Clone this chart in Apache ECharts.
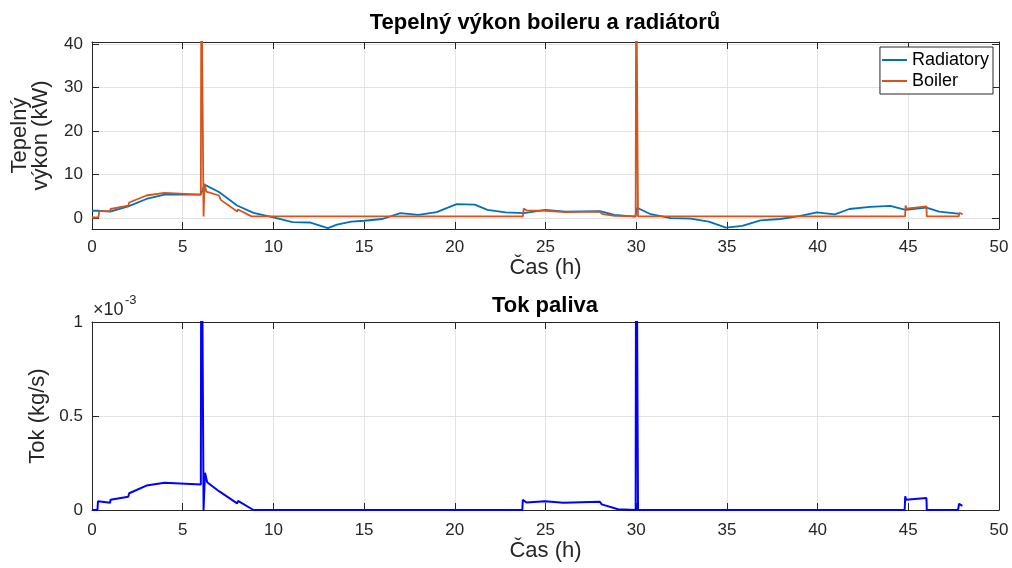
<!DOCTYPE html>
<html>
<head>
<meta charset="utf-8">
<script src="https://cdn.jsdelivr.net/npm/echarts@6/dist/echarts.min.js"></script>
<style>html,body{margin:0;padding:0;background:#fff}#c{width:1012px;height:568px}</style>
</head>
<body>
<div id="c"></div>
<script>
// ---- data ----
const radT = [0, 0.3, 0.35, 1.0, 2.0, 3.0, 4.0, 6.0, 6.2, 7.0, 8.0, 8.9, 10.0, 11.05, 12.0, 13.0, 13.5, 14.3, 15.0, 16.0, 17.0, 18.0, 19.0, 20.1, 21.1, 21.8, 22.8, 23.8, 25.0, 26.1, 28.0, 28.8, 29.95, 30.05, 30.8, 31.9, 33.0, 34.0, 34.95, 35.85, 36.85, 37.95, 39.05, 39.95, 40.95, 41.75, 42.9, 44.0, 44.85, 46.0, 46.7, 47.85];
const radV = [1.7, 1.7, 1.3, 1.5, 2.7, 4.4, 5.4, 5.4, 7.7, 6.0, 2.9, 1.2, 0.15, -0.9, -1.0, -2.3, -1.5, -0.8, -0.6, -0.2, 1.15, 0.75, 1.4, 3.2, 3.1, 1.9, 1.3, 1.15, 1.9, 1.5, 1.6, 0.75, 0.35, 2.4, 0.9, 0.0, -0.1, -0.8, -2.2, -1.8, -0.5, -0.2, 0.5, 1.3, 0.85, 2.1, 2.6, 2.8, 1.9, 2.4, 1.5, 1.0];

const boilT = [0, 0.35, 0.4, 1.0, 1.02, 2.0, 2.05, 3.0, 3.05, 4.0, 4.05, 6.0, 6.03, 6.1, 6.15, 6.2, 6.3, 7.0, 7.1, 8.0, 8.05, 8.8, 23.75, 23.8, 23.95, 25.0, 26.1, 28.0, 28.1, 28.8, 29.97, 30.0, 30.06, 30.1, 44.82, 44.85, 44.9, 46.0, 46.02, 47.78, 47.82, 48.0];
const boilV = [0.15, 0.15, 1.6, 1.6, 2.1, 2.9, 3.6, 5.2, 4.8, 5.8, 5.4, 5.4, 60, 60, 0.4, 7.9, 6.1, 5.2, 4.2, 1.5, 2.0, 0.4, 0.4, 2.2, 1.8, 1.7, 1.4, 1.5, 1.0, 0.5, 0.4, 60, 60, 0.4, 0.4, 2.9, 2.2, 2.7, 0.4, 0.4, 1.2, 0.9];

// fuel flow in units of 1e-3 kg/s
const fuelT = [0, 0.3, 0.33, 0.4, 1.0, 1.02, 2.0, 2.05, 3.0, 3.05, 4.0, 4.05, 6.0, 6.03, 6.1, 6.15, 6.23, 6.35, 7.0, 8.0, 8.05, 8.9, 23.72, 23.75, 23.95, 24.97, 25.98, 26.03, 28.0, 28.1, 29.0, 29.05, 29.97, 30.0, 30.06, 30.1, 44.8, 44.83, 44.88, 46.0, 46.02, 47.74, 47.8, 47.98];
const fuelV = [0, 0, 0.046, 0.038, 0.038, 0.055, 0.071, 0.089, 0.13, 0.12, 0.145, 0.136, 0.136, 2, 2, 0, 0.198, 0.148, 0.1, 0.035, 0.048, 0, 0, 0.054, 0.04, 0.046, 0.039, 0.044, 0.044, 0.03, 0.004, 0, 0, 2, 2, 0, 0, 0.073, 0.055, 0.064, 0, 0, 0.033, 0.022];

const topYTicks = [0, 10, 20, 30, 40];
const seriesNames = ['Radiatory', 'Boiler'];
const titles = ['Tepelný výkon boileru a radiátorů', 'Tok paliva'];

// ---- chart ----
const FONT = 'Liberation Sans, Arial, Helvetica, sans-serif';
const AX = '#262626';
const GRIDC = '#e3e3e3';
const pairs = (t, v) => t.map((x, i) => [x, v[i]]);

const chart = echarts.init(document.getElementById('c'), null, {renderer: 'canvas'});

function xAxisMain(gi, margin, gap) {
  return {
    type: 'value', gridIndex: gi, min: 0, max: 50, interval: 5, position: 'bottom',
    name: 'Čas (h)', nameLocation: 'middle', nameGap: gap,
    nameTextStyle: {fontFamily: FONT, fontSize: 22, color: AX},
    axisLine: {onZero: false, lineStyle: {color: AX, width: 1}},
    axisTick: {inside: true, length: 7, lineStyle: {color: AX}},
    axisLabel: {fontFamily: FONT, fontSize: 17, color: AX, margin: margin},
    splitLine: {show: true, lineStyle: {color: GRIDC, width: 1}}
  };
}
function xAxisTop(gi) {
  return {
    type: 'value', gridIndex: gi, min: 0, max: 50, interval: 5, position: 'top',
    axisLine: {onZero: false, lineStyle: {color: AX, width: 1}},
    axisTick: {inside: true, length: 7, lineStyle: {color: AX}},
    axisLabel: {show: false}, splitLine: {show: false}
  };
}

const option = {
  backgroundColor: '#fff',
  animation: false,
  title: [
    {text: titles[0], left: 545, top: 12, textAlign: 'center', padding: 0,
     textStyle: {fontFamily: FONT, fontSize: 22, fontWeight: 'bold', color: '#000'}},
    {text: titles[1], left: 545, top: 295, textAlign: 'center', padding: 0,
     textStyle: {fontFamily: FONT, fontSize: 22, fontWeight: 'bold', color: '#000'}}
  ],
  legend: {
    data: seriesNames, orient: 'vertical', right: 19, top: 47,
    icon: 'rect', itemWidth: 25, itemHeight: 2, itemGap: 3,
    padding: [4, 4, 4, 2],
    backgroundColor: '#fff', borderColor: AX, borderWidth: 1, borderRadius: 0,
    textStyle: {fontFamily: FONT, fontSize: 18, color: '#000'}
  },
  grid: [
    {left: 92, right: 13, top: 42, height: 187},
    {left: 92, right: 13, top: 322, height: 188}
  ],
  xAxis: [xAxisMain(0, 10, 26), xAxisMain(1, 12, 28), xAxisTop(0), xAxisTop(1)],
  yAxis: [
    {type: 'value', gridIndex: 0, min: -2.5, max: 40.5, position: 'left',
     name: 'Tepelný\nvýkon (kW)', nameLocation: 'middle', nameGap: 41, nameRotate: 90,
     nameTextStyle: {fontFamily: FONT, fontSize: 22, color: AX, lineHeight: 21, align: 'center'},
     axisLine: {show: true, onZero: false, lineStyle: {color: AX}},
     axisTick: {show: true, inside: true, length: 7, customValues: topYTicks, lineStyle: {color: AX}},
     axisLabel: {customValues: topYTicks, fontFamily: FONT, fontSize: 17, color: AX, margin: 9},
     splitLine: {show: true, lineStyle: {color: GRIDC}}},
    {type: 'value', gridIndex: 1, min: 0, max: 1, interval: 0.5, position: 'left',
     name: 'Tok (kg/s)', nameLocation: 'middle', nameGap: 38, nameRotate: 90,
     nameTextStyle: {fontFamily: FONT, fontSize: 22, color: AX},
     axisLine: {show: true, onZero: false, lineStyle: {color: AX}},
     axisTick: {show: true, inside: true, length: 7, lineStyle: {color: AX}},
     axisLabel: {fontFamily: FONT, fontSize: 17, color: AX, margin: 9},
     splitLine: {show: true, lineStyle: {color: GRIDC}}},
    {type: 'value', gridIndex: 0, min: -2.5, max: 40.5, position: 'right',
     axisLine: {show: true, onZero: false, lineStyle: {color: AX}},
     axisTick: {show: true, inside: true, length: 7, customValues: topYTicks, lineStyle: {color: AX}},
     axisLabel: {show: false}, splitLine: {show: false}},
    {type: 'value', gridIndex: 1, min: 0, max: 1, interval: 0.5, position: 'right',
     axisLine: {show: true, onZero: false, lineStyle: {color: AX}},
     axisTick: {show: true, inside: true, length: 7, lineStyle: {color: AX}},
     axisLabel: {show: false}, splitLine: {show: false}}
  ],
  graphic: [
    {type: 'text', x: 93, y: 319, style: {text: '×10', font: '18px ' + FONT, fill: AX, verticalAlign: 'bottom'}},
    {type: 'text', x: 125, y: 307, style: {text: '-3', font: '13px ' + FONT, fill: AX, verticalAlign: 'bottom'}}
  ],
  series: [
    {name: seriesNames[0], type: 'line', xAxisIndex: 0, yAxisIndex: 0, data: pairs(radT, radV),
     symbol: 'none', clip: true, lineStyle: {color: '#0072BD', width: 1.8}, itemStyle: {color: '#0072BD'}, z: 3},
    {name: seriesNames[1], type: 'line', xAxisIndex: 0, yAxisIndex: 0, data: pairs(boilT, boilV),
     symbol: 'none', clip: true, lineStyle: {color: '#D95319', width: 1.8}, itemStyle: {color: '#D95319'}, z: 4},
    {name: 'Tok paliva', type: 'line', xAxisIndex: 1, yAxisIndex: 1, data: pairs(fuelT, fuelV),
     symbol: 'none', clip: true, lineStyle: {color: '#0000FF', width: 2}, itemStyle: {color: '#0000FF'}, z: 3}
  ]
};
chart.setOption(option);
</script>
</body>
</html>
